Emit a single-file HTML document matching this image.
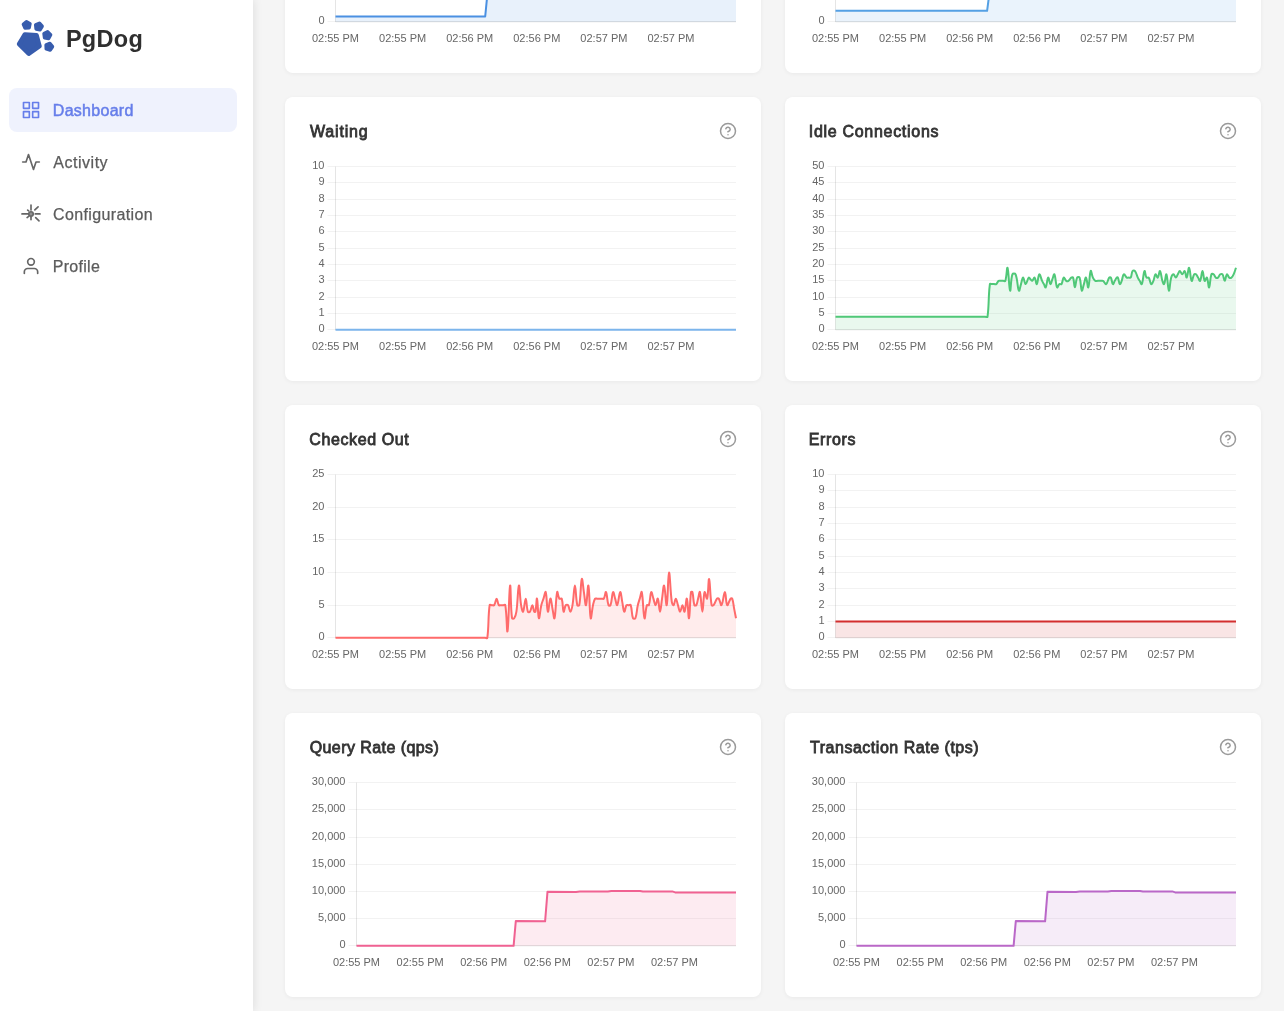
<!DOCTYPE html>
<html lang="en"><head><meta charset="utf-8"><title>PgDog</title>
<style>
*{box-sizing:border-box;margin:0;padding:0}
html,body{width:1284px;height:1011px;overflow:hidden;background:#f5f5f5;font-family:"Liberation Sans", sans-serif;}
.side{position:absolute;left:0;top:0;width:253px;height:1011px;background:#fff;box-shadow:2px 0 8px rgba(0,0,0,.08);z-index:3}
.logo{position:absolute;left:0;top:0}
.brand{position:absolute;left:66px;top:24px;font-size:23.5px;line-height:30px;font-weight:bold;color:#2f2f2f;white-space:nowrap;}
.nav{position:absolute;left:9px;width:228px;height:44px;border-radius:8px;display:flex;align-items:center;padding-left:12px;font-size:16px;color:#5c5c5c}
.nav svg{flex:none;margin-right:12px}
.nav span{display:inline-block;white-space:nowrap;position:relative;top:1px;-webkit-text-stroke:0.25px #5c5c5c}
.nav.on{background:rgba(102,126,234,0.1);color:#667eea}
.nav.on span{-webkit-text-stroke:0.5px #667eea}
.card{position:absolute;width:476px;height:284px;background:#fff;border-radius:8px;box-shadow:0 1px 4px rgba(0,0,0,.05)}
.ct{position:absolute;left:24px;top:25.3px;font-size:16px;line-height:20px;font-weight:normal;color:#333;-webkit-text-stroke:0.8px #333;white-space:nowrap}
.help{position:absolute;left:434px;top:25px}
svg.charts{position:absolute;left:0;top:0;z-index:2}
.tk{font-family:"Liberation Sans", sans-serif;font-size:11px;fill:#666}
#app{position:absolute;left:0;top:0;width:1284px;height:1011px;will-change:transform}
</style></head><body>
<div id="app">
<div class="card" style="left:285px;top:-211px"></div>
<div class="card" style="left:785px;top:-211px"></div>
<div class="card" style="left:285px;top:97px"><div class="ct" style="margin-left:1.01px;letter-spacing:0.809px">Waiting</div><svg class="help" viewBox="0 0 24 24" width="18" height="18" fill="none" stroke="#9a9a9a" stroke-width="2" stroke-linecap="round" stroke-linejoin="round"><circle cx="12" cy="12" r="10"/><path d="M9.09 9a3 3 0 0 1 5.83 1c0 2-3 3-3 3"/><line x1="12" y1="17" x2="12.01" y2="17"/></svg></div>
<div class="card" style="left:785px;top:97px"><div class="ct" style="margin-left:-0.28px;letter-spacing:0.704px">Idle Connections</div><svg class="help" viewBox="0 0 24 24" width="18" height="18" fill="none" stroke="#9a9a9a" stroke-width="2" stroke-linecap="round" stroke-linejoin="round"><circle cx="12" cy="12" r="10"/><path d="M9.09 9a3 3 0 0 1 5.83 1c0 2-3 3-3 3"/><line x1="12" y1="17" x2="12.01" y2="17"/></svg></div>
<div class="card" style="left:285px;top:405px"><div class="ct" style="margin-left:0.29px;letter-spacing:0.604px">Checked Out</div><svg class="help" viewBox="0 0 24 24" width="18" height="18" fill="none" stroke="#9a9a9a" stroke-width="2" stroke-linecap="round" stroke-linejoin="round"><circle cx="12" cy="12" r="10"/><path d="M9.09 9a3 3 0 0 1 5.83 1c0 2-3 3-3 3"/><line x1="12" y1="17" x2="12.01" y2="17"/></svg></div>
<div class="card" style="left:785px;top:405px"><div class="ct" style="margin-left:-0.26px;letter-spacing:0.621px">Errors</div><svg class="help" viewBox="0 0 24 24" width="18" height="18" fill="none" stroke="#9a9a9a" stroke-width="2" stroke-linecap="round" stroke-linejoin="round"><circle cx="12" cy="12" r="10"/><path d="M9.09 9a3 3 0 0 1 5.83 1c0 2-3 3-3 3"/><line x1="12" y1="17" x2="12.01" y2="17"/></svg></div>
<div class="card" style="left:285px;top:713px"><div class="ct" style="margin-left:0.66px;letter-spacing:0.433px">Query Rate (qps)</div><svg class="help" viewBox="0 0 24 24" width="18" height="18" fill="none" stroke="#9a9a9a" stroke-width="2" stroke-linecap="round" stroke-linejoin="round"><circle cx="12" cy="12" r="10"/><path d="M9.09 9a3 3 0 0 1 5.83 1c0 2-3 3-3 3"/><line x1="12" y1="17" x2="12.01" y2="17"/></svg></div>
<div class="card" style="left:785px;top:713px"><div class="ct" style="margin-left:1.04px;letter-spacing:0.520px">Transaction Rate (tps)</div><svg class="help" viewBox="0 0 24 24" width="18" height="18" fill="none" stroke="#9a9a9a" stroke-width="2" stroke-linecap="round" stroke-linejoin="round"><circle cx="12" cy="12" r="10"/><path d="M9.09 9a3 3 0 0 1 5.83 1c0 2-3 3-3 3"/><line x1="12" y1="17" x2="12.01" y2="17"/></svg></div>
<svg class="charts" width="1284" height="1011" viewBox="0 0 1284 1011">
<g><line x1="327.50" y1="21.50" x2="736.00" y2="21.50" stroke="rgba(0,0,0,0.05)" stroke-width="1"/>
<text x="324.50" y="24.00" text-anchor="end" class="tk">0</text>
<line x1="327.50" y1="-10.50" x2="736.00" y2="-10.50" stroke="rgba(0,0,0,0.05)" stroke-width="1"/>
<text x="324.50" y="-8.00" text-anchor="end" class="tk"></text>
<line x1="327.50" y1="-43.50" x2="736.00" y2="-43.50" stroke="rgba(0,0,0,0.05)" stroke-width="1"/>
<text x="324.50" y="-41.00" text-anchor="end" class="tk"></text>
<line x1="327.50" y1="-76.50" x2="736.00" y2="-76.50" stroke="rgba(0,0,0,0.05)" stroke-width="1"/>
<text x="324.50" y="-74.00" text-anchor="end" class="tk"></text>
<line x1="327.50" y1="-108.50" x2="736.00" y2="-108.50" stroke="rgba(0,0,0,0.05)" stroke-width="1"/>
<text x="324.50" y="-106.00" text-anchor="end" class="tk"></text>
<line x1="327.50" y1="-141.50" x2="736.00" y2="-141.50" stroke="rgba(0,0,0,0.05)" stroke-width="1"/>
<text x="324.50" y="-139.00" text-anchor="end" class="tk"></text>
<line x1="335.50" y1="-141.40" x2="335.50" y2="21.80" stroke="rgba(0,0,0,0.1)" stroke-width="1"/>
<line x1="335.50" y1="21.80" x2="736.00" y2="21.80" stroke="rgba(0,0,0,0.1)" stroke-width="1"/>
<text x="335.50" y="42.00" text-anchor="middle" class="tk">02:55 PM</text>
<text x="402.60" y="42.00" text-anchor="middle" class="tk">02:55 PM</text>
<text x="469.70" y="42.00" text-anchor="middle" class="tk">02:56 PM</text>
<text x="536.80" y="42.00" text-anchor="middle" class="tk">02:56 PM</text>
<text x="603.90" y="42.00" text-anchor="middle" class="tk">02:57 PM</text>
<text x="671.00" y="42.00" text-anchor="middle" class="tk">02:57 PM</text>
<path d="M335.50 16.50L485.20 16.50L487.40 -6.00L736.00 -6.00L736.00 21.80 L335.50 21.80 Z" fill="rgba(74,144,226,0.125)" stroke="none"/>
<path d="M335.50 16.50L485.20 16.50L487.40 -6.00L736.00 -6.00" fill="none" stroke="#4a90e2" stroke-width="2" stroke-linejoin="round" stroke-linecap="butt"/></g>
<g><line x1="827.50" y1="21.50" x2="1236.00" y2="21.50" stroke="rgba(0,0,0,0.05)" stroke-width="1"/>
<text x="824.50" y="24.00" text-anchor="end" class="tk">0</text>
<line x1="827.50" y1="-10.50" x2="1236.00" y2="-10.50" stroke="rgba(0,0,0,0.05)" stroke-width="1"/>
<text x="824.50" y="-8.00" text-anchor="end" class="tk"></text>
<line x1="827.50" y1="-43.50" x2="1236.00" y2="-43.50" stroke="rgba(0,0,0,0.05)" stroke-width="1"/>
<text x="824.50" y="-41.00" text-anchor="end" class="tk"></text>
<line x1="827.50" y1="-76.50" x2="1236.00" y2="-76.50" stroke="rgba(0,0,0,0.05)" stroke-width="1"/>
<text x="824.50" y="-74.00" text-anchor="end" class="tk"></text>
<line x1="827.50" y1="-108.50" x2="1236.00" y2="-108.50" stroke="rgba(0,0,0,0.05)" stroke-width="1"/>
<text x="824.50" y="-106.00" text-anchor="end" class="tk"></text>
<line x1="827.50" y1="-141.50" x2="1236.00" y2="-141.50" stroke="rgba(0,0,0,0.05)" stroke-width="1"/>
<text x="824.50" y="-139.00" text-anchor="end" class="tk"></text>
<line x1="835.50" y1="-141.40" x2="835.50" y2="21.80" stroke="rgba(0,0,0,0.1)" stroke-width="1"/>
<line x1="835.50" y1="21.80" x2="1236.00" y2="21.80" stroke="rgba(0,0,0,0.1)" stroke-width="1"/>
<text x="835.50" y="42.00" text-anchor="middle" class="tk">02:55 PM</text>
<text x="902.60" y="42.00" text-anchor="middle" class="tk">02:55 PM</text>
<text x="969.70" y="42.00" text-anchor="middle" class="tk">02:56 PM</text>
<text x="1036.80" y="42.00" text-anchor="middle" class="tk">02:56 PM</text>
<text x="1103.90" y="42.00" text-anchor="middle" class="tk">02:57 PM</text>
<text x="1171.00" y="42.00" text-anchor="middle" class="tk">02:57 PM</text>
<path d="M835.50 10.85L987.10 10.85L989.30 -6.00L1236.00 -6.00L1236.00 21.80 L835.50 21.80 Z" fill="rgba(84,160,228,0.125)" stroke="none"/>
<path d="M835.50 10.85L987.10 10.85L989.30 -6.00L1236.00 -6.00" fill="none" stroke="#54a0e4" stroke-width="2" stroke-linejoin="round" stroke-linecap="butt"/></g>
<g><line x1="327.50" y1="329.50" x2="736.00" y2="329.50" stroke="rgba(0,0,0,0.05)" stroke-width="1"/>
<text x="324.50" y="332.00" text-anchor="end" class="tk">0</text>
<line x1="327.50" y1="313.50" x2="736.00" y2="313.50" stroke="rgba(0,0,0,0.05)" stroke-width="1"/>
<text x="324.50" y="316.00" text-anchor="end" class="tk">1</text>
<line x1="327.50" y1="297.50" x2="736.00" y2="297.50" stroke="rgba(0,0,0,0.05)" stroke-width="1"/>
<text x="324.50" y="300.00" text-anchor="end" class="tk">2</text>
<line x1="327.50" y1="280.50" x2="736.00" y2="280.50" stroke="rgba(0,0,0,0.05)" stroke-width="1"/>
<text x="324.50" y="283.00" text-anchor="end" class="tk">3</text>
<line x1="327.50" y1="264.50" x2="736.00" y2="264.50" stroke="rgba(0,0,0,0.05)" stroke-width="1"/>
<text x="324.50" y="267.00" text-anchor="end" class="tk">4</text>
<line x1="327.50" y1="248.50" x2="736.00" y2="248.50" stroke="rgba(0,0,0,0.05)" stroke-width="1"/>
<text x="324.50" y="251.00" text-anchor="end" class="tk">5</text>
<line x1="327.50" y1="231.50" x2="736.00" y2="231.50" stroke="rgba(0,0,0,0.05)" stroke-width="1"/>
<text x="324.50" y="234.00" text-anchor="end" class="tk">6</text>
<line x1="327.50" y1="215.50" x2="736.00" y2="215.50" stroke="rgba(0,0,0,0.05)" stroke-width="1"/>
<text x="324.50" y="218.00" text-anchor="end" class="tk">7</text>
<line x1="327.50" y1="199.50" x2="736.00" y2="199.50" stroke="rgba(0,0,0,0.05)" stroke-width="1"/>
<text x="324.50" y="202.00" text-anchor="end" class="tk">8</text>
<line x1="327.50" y1="182.50" x2="736.00" y2="182.50" stroke="rgba(0,0,0,0.05)" stroke-width="1"/>
<text x="324.50" y="185.00" text-anchor="end" class="tk">9</text>
<line x1="327.50" y1="166.50" x2="736.00" y2="166.50" stroke="rgba(0,0,0,0.05)" stroke-width="1"/>
<text x="324.50" y="169.00" text-anchor="end" class="tk">10</text>
<line x1="335.50" y1="166.60" x2="335.50" y2="329.80" stroke="rgba(0,0,0,0.1)" stroke-width="1"/>
<line x1="335.50" y1="329.80" x2="736.00" y2="329.80" stroke="rgba(0,0,0,0.1)" stroke-width="1"/>
<text x="335.50" y="350.00" text-anchor="middle" class="tk">02:55 PM</text>
<text x="402.60" y="350.00" text-anchor="middle" class="tk">02:55 PM</text>
<text x="469.70" y="350.00" text-anchor="middle" class="tk">02:56 PM</text>
<text x="536.80" y="350.00" text-anchor="middle" class="tk">02:56 PM</text>
<text x="603.90" y="350.00" text-anchor="middle" class="tk">02:57 PM</text>
<text x="671.00" y="350.00" text-anchor="middle" class="tk">02:57 PM</text>
<path d="M335.50 329.80L736.00 329.80L736.00 329.80 L335.50 329.80 Z" fill="rgba(124,181,236,0.125)" stroke="none"/>
<path d="M335.50 329.80L736.00 329.80" fill="none" stroke="#7cb5ec" stroke-width="2" stroke-linejoin="round" stroke-linecap="butt"/></g>
<g><line x1="827.50" y1="329.50" x2="1236.00" y2="329.50" stroke="rgba(0,0,0,0.05)" stroke-width="1"/>
<text x="824.50" y="332.00" text-anchor="end" class="tk">0</text>
<line x1="827.50" y1="313.50" x2="1236.00" y2="313.50" stroke="rgba(0,0,0,0.05)" stroke-width="1"/>
<text x="824.50" y="316.00" text-anchor="end" class="tk">5</text>
<line x1="827.50" y1="297.50" x2="1236.00" y2="297.50" stroke="rgba(0,0,0,0.05)" stroke-width="1"/>
<text x="824.50" y="300.00" text-anchor="end" class="tk">10</text>
<line x1="827.50" y1="280.50" x2="1236.00" y2="280.50" stroke="rgba(0,0,0,0.05)" stroke-width="1"/>
<text x="824.50" y="283.00" text-anchor="end" class="tk">15</text>
<line x1="827.50" y1="264.50" x2="1236.00" y2="264.50" stroke="rgba(0,0,0,0.05)" stroke-width="1"/>
<text x="824.50" y="267.00" text-anchor="end" class="tk">20</text>
<line x1="827.50" y1="248.50" x2="1236.00" y2="248.50" stroke="rgba(0,0,0,0.05)" stroke-width="1"/>
<text x="824.50" y="251.00" text-anchor="end" class="tk">25</text>
<line x1="827.50" y1="231.50" x2="1236.00" y2="231.50" stroke="rgba(0,0,0,0.05)" stroke-width="1"/>
<text x="824.50" y="234.00" text-anchor="end" class="tk">30</text>
<line x1="827.50" y1="215.50" x2="1236.00" y2="215.50" stroke="rgba(0,0,0,0.05)" stroke-width="1"/>
<text x="824.50" y="218.00" text-anchor="end" class="tk">35</text>
<line x1="827.50" y1="199.50" x2="1236.00" y2="199.50" stroke="rgba(0,0,0,0.05)" stroke-width="1"/>
<text x="824.50" y="202.00" text-anchor="end" class="tk">40</text>
<line x1="827.50" y1="182.50" x2="1236.00" y2="182.50" stroke="rgba(0,0,0,0.05)" stroke-width="1"/>
<text x="824.50" y="185.00" text-anchor="end" class="tk">45</text>
<line x1="827.50" y1="166.50" x2="1236.00" y2="166.50" stroke="rgba(0,0,0,0.05)" stroke-width="1"/>
<text x="824.50" y="169.00" text-anchor="end" class="tk">50</text>
<line x1="835.50" y1="166.60" x2="835.50" y2="329.80" stroke="rgba(0,0,0,0.1)" stroke-width="1"/>
<line x1="835.50" y1="329.80" x2="1236.00" y2="329.80" stroke="rgba(0,0,0,0.1)" stroke-width="1"/>
<text x="835.50" y="350.00" text-anchor="middle" class="tk">02:55 PM</text>
<text x="902.60" y="350.00" text-anchor="middle" class="tk">02:55 PM</text>
<text x="969.70" y="350.00" text-anchor="middle" class="tk">02:56 PM</text>
<text x="1036.80" y="350.00" text-anchor="middle" class="tk">02:56 PM</text>
<text x="1103.90" y="350.00" text-anchor="middle" class="tk">02:57 PM</text>
<text x="1171.00" y="350.00" text-anchor="middle" class="tk">02:57 PM</text>
<path d="M835.50 316.74C836.39 316.74 836.84 316.74 837.74 316.74C838.63 316.74 839.08 316.74 839.97 316.74C840.86 316.74 841.31 316.74 842.21 316.74C843.10 316.74 843.55 316.74 844.44 316.74C845.34 316.74 845.78 316.74 846.68 316.74C847.57 316.74 848.02 316.74 848.91 316.74C849.81 316.74 850.25 316.74 851.15 316.74C852.04 316.74 852.49 316.74 853.38 316.74C854.28 316.74 854.72 316.74 855.62 316.74C856.51 316.74 856.96 316.74 857.85 316.74C858.75 316.74 859.19 316.74 860.09 316.74C860.98 316.74 861.43 316.74 862.32 316.74C863.22 316.74 863.66 316.74 864.56 316.74C865.45 316.74 865.90 316.74 866.79 316.74C867.69 316.74 868.14 316.74 869.03 316.74C869.92 316.74 870.37 316.74 871.26 316.74C872.16 316.74 872.61 316.74 873.50 316.74C874.39 316.74 874.84 316.74 875.74 316.74C876.63 316.74 877.08 316.74 877.97 316.74C878.86 316.74 879.31 316.74 880.21 316.74C881.10 316.74 881.55 316.74 882.44 316.74C883.34 316.74 883.78 316.74 884.68 316.74C885.57 316.74 886.02 316.74 886.91 316.74C887.81 316.74 888.25 316.74 889.15 316.74C890.04 316.74 890.49 316.74 891.38 316.74C892.28 316.74 892.72 316.74 893.62 316.74C894.51 316.74 894.96 316.74 895.85 316.74C896.75 316.74 897.19 316.74 898.09 316.74C898.98 316.74 899.43 316.74 900.32 316.74C901.22 316.74 901.66 316.74 902.56 316.74C903.45 316.74 903.90 316.74 904.79 316.74C905.69 316.74 906.14 316.74 907.03 316.74C907.92 316.74 908.37 316.74 909.26 316.74C910.16 316.74 910.61 316.74 911.50 316.74C912.39 316.74 912.84 316.74 913.74 316.74C914.63 316.74 915.08 316.74 915.97 316.74C916.86 316.74 917.31 316.74 918.21 316.74C919.10 316.74 919.55 316.74 920.44 316.74C921.34 316.74 921.78 316.74 922.68 316.74C923.57 316.74 924.02 316.74 924.91 316.74C925.81 316.74 926.25 316.74 927.15 316.74C928.04 316.74 928.49 316.74 929.38 316.74C930.28 316.74 930.72 316.74 931.62 316.74C932.51 316.74 932.96 316.74 933.85 316.74C934.75 316.74 935.19 316.74 936.09 316.74C936.98 316.74 937.43 316.74 938.32 316.74C939.22 316.74 939.66 316.74 940.56 316.74C941.45 316.74 941.90 316.74 942.79 316.74C943.69 316.74 944.14 316.74 945.03 316.74C945.92 316.74 946.37 316.74 947.26 316.74C948.16 316.74 948.61 316.74 949.50 316.74C950.39 316.74 950.84 316.74 951.74 316.74C952.63 316.74 953.08 316.74 953.97 316.74C954.86 316.74 955.31 316.74 956.21 316.74C957.10 316.74 957.55 316.74 958.44 316.74C959.34 316.74 959.78 316.74 960.68 316.74C961.57 316.74 962.02 316.74 962.91 316.74C963.81 316.74 964.25 316.74 965.15 316.74C966.04 316.74 966.49 316.74 967.38 316.74C968.28 316.74 968.72 316.74 969.62 316.74C970.51 316.74 970.96 316.74 971.85 316.74C972.75 316.74 973.19 316.74 974.09 316.74C974.98 316.74 975.43 316.74 976.32 316.74C977.22 316.74 977.66 316.74 978.56 316.74C979.45 316.74 979.90 316.74 980.79 316.74C981.69 316.74 982.14 316.74 983.03 316.74C983.92 316.74 984.37 316.74 985.26 316.74C986.16 316.74 987.38 317.58 987.50 316.74C989.24 304.52 988.21 296.37 989.90 284.10C990.01 283.32 991.16 284.10 992.00 284.10C992.84 284.10 993.26 284.10 994.10 284.10C994.94 284.10 995.59 284.55 996.20 284.10C997.39 283.24 997.41 281.68 998.60 280.84C999.26 280.38 999.94 280.84 1000.83 280.84C1001.73 280.84 1002.17 280.84 1003.07 280.84C1003.96 280.84 1005.04 281.59 1005.30 280.84C1006.82 276.37 1006.80 266.35 1007.50 267.78C1008.72 270.27 1008.96 289.11 1010.10 290.63C1010.92 291.72 1010.56 279.78 1012.40 274.31C1012.76 273.25 1015.18 273.26 1015.60 274.31C1017.78 279.79 1017.37 287.86 1018.90 290.63C1019.53 291.77 1020.16 286.72 1021.00 284.10C1021.84 281.49 1022.17 277.58 1023.10 277.58C1024.05 277.58 1024.59 284.10 1025.70 284.10C1026.83 284.10 1027.27 279.05 1028.70 277.58C1029.17 277.09 1029.75 278.56 1030.45 279.21C1031.15 279.86 1031.58 281.08 1032.20 280.84C1033.24 280.43 1033.92 277.09 1034.60 277.58C1035.76 278.40 1036.04 284.63 1036.80 284.10C1037.92 283.33 1038.06 275.08 1039.30 274.31C1040.18 273.77 1040.89 278.27 1042.10 280.84C1042.73 282.19 1043.18 282.80 1043.90 284.10C1044.62 285.41 1045.24 288.07 1045.70 287.37C1046.96 285.46 1047.08 278.35 1048.20 277.58C1048.96 277.05 1049.45 283.73 1050.40 284.10C1051.13 284.39 1051.60 281.17 1052.40 279.21C1053.20 277.25 1053.87 273.38 1054.40 274.31C1055.75 276.65 1055.56 284.35 1057.10 287.37C1057.56 288.27 1058.25 284.96 1059.40 284.10C1060.01 283.65 1061.10 284.71 1061.50 284.10C1062.82 282.10 1062.52 278.39 1063.70 277.58C1064.40 277.09 1064.98 279.99 1066.20 280.84C1066.86 281.30 1067.72 281.28 1068.40 280.84C1069.76 279.97 1069.97 278.50 1071.30 277.58C1071.85 277.19 1072.88 276.98 1073.10 277.58C1074.32 280.89 1074.10 287.37 1074.90 287.37C1075.70 287.37 1075.59 280.71 1077.10 277.58C1077.47 276.79 1079.30 276.75 1079.60 277.58C1081.18 281.97 1080.67 288.91 1081.80 290.63C1082.39 291.52 1083.06 286.72 1083.90 284.10C1084.74 281.49 1085.29 277.05 1086.00 277.58C1087.05 278.35 1087.59 288.36 1088.30 287.37C1089.47 285.75 1089.40 273.81 1090.70 271.05C1091.24 269.89 1091.74 275.11 1092.90 277.58C1093.58 279.03 1094.08 280.04 1095.30 280.84C1096.07 281.35 1096.84 280.84 1097.87 280.84C1098.89 280.84 1099.41 280.84 1100.43 280.84C1101.46 280.84 1102.18 280.37 1103.00 280.84C1104.44 281.67 1105.15 284.61 1106.10 284.10C1107.63 283.30 1107.66 279.71 1109.20 277.58C1109.54 277.10 1110.52 277.08 1110.80 277.58C1112.00 279.69 1111.87 283.26 1112.90 284.10C1113.47 284.57 1114.04 282.15 1114.80 280.84C1115.56 279.53 1115.76 278.57 1116.70 277.58C1117.00 277.26 1117.71 277.18 1117.90 277.58C1118.95 279.80 1118.82 283.26 1119.80 284.10C1120.34 284.57 1121.13 282.23 1121.70 280.84C1122.73 278.31 1122.58 275.11 1123.80 274.31C1124.58 273.80 1125.36 276.68 1126.70 277.58C1127.32 277.99 1127.90 277.58 1128.70 277.58C1129.50 277.58 1130.35 278.17 1130.70 277.58C1131.91 275.56 1131.33 272.98 1132.60 271.05C1133.05 270.37 1134.47 270.39 1135.00 271.05C1136.55 273.00 1136.57 275.02 1137.80 277.58C1138.45 278.94 1138.91 279.55 1139.70 280.84C1140.51 282.16 1141.37 284.99 1141.80 284.10C1143.29 281.07 1143.26 272.77 1144.50 271.05C1145.14 270.16 1145.23 275.60 1146.50 277.58C1146.91 278.21 1148.25 276.95 1148.70 277.58C1150.13 279.56 1150.00 283.27 1151.20 284.10C1151.88 284.57 1152.77 282.27 1153.40 280.84C1154.49 278.35 1154.41 275.14 1155.50 274.31C1156.13 273.84 1157.05 278.05 1157.70 277.58C1158.85 276.74 1159.23 270.52 1160.00 271.05C1161.11 271.82 1161.20 277.01 1162.40 280.84C1162.84 282.24 1163.67 284.80 1164.10 284.10C1165.27 282.19 1165.67 273.32 1166.40 274.31C1167.59 275.93 1167.84 289.91 1168.90 290.63C1169.76 291.21 1169.79 282.59 1171.20 277.58C1171.63 276.06 1172.58 274.31 1173.50 274.31C1174.42 274.31 1174.92 277.58 1175.80 277.58C1176.64 277.58 1177.00 275.62 1177.80 274.31C1178.60 273.01 1178.93 271.05 1179.80 271.05C1180.73 271.05 1181.31 274.31 1182.30 274.31C1183.27 274.31 1184.04 270.56 1184.70 271.05C1185.80 271.87 1185.99 278.10 1186.70 277.58C1187.75 276.80 1188.24 267.22 1189.10 267.78C1190.24 268.53 1190.36 279.13 1191.70 280.84C1192.40 281.74 1192.83 276.39 1194.20 274.31C1194.55 273.78 1195.51 273.90 1196.00 274.31C1197.05 275.20 1197.23 276.27 1198.05 277.58C1198.87 278.88 1199.61 281.56 1200.10 280.84C1201.39 278.95 1201.58 271.05 1202.50 271.05C1203.42 271.05 1203.44 278.96 1204.70 280.84C1205.20 281.58 1206.40 276.84 1206.90 277.58C1208.16 279.45 1208.32 287.93 1209.10 287.37C1210.12 286.62 1209.86 278.79 1211.40 274.31C1211.66 273.57 1212.97 273.84 1213.60 274.31C1214.73 275.15 1214.67 276.74 1215.80 277.58C1216.43 278.04 1217.36 278.04 1218.00 277.58C1219.16 276.73 1219.14 275.15 1220.30 274.31C1220.94 273.85 1222.07 273.68 1222.50 274.31C1223.83 276.29 1223.82 280.84 1224.70 280.84C1225.58 280.84 1225.76 275.14 1226.90 274.31C1227.56 273.83 1228.04 276.73 1229.20 277.58C1229.84 278.04 1230.77 278.04 1231.40 277.58C1232.53 276.74 1232.94 275.73 1233.60 274.31C1234.78 271.81 1235.04 270.40 1236.00 267.78L1236.00 329.80 L835.50 329.80 Z" fill="rgba(80,200,120,0.125)" stroke="none"/>
<path d="M835.50 316.74C836.39 316.74 836.84 316.74 837.74 316.74C838.63 316.74 839.08 316.74 839.97 316.74C840.86 316.74 841.31 316.74 842.21 316.74C843.10 316.74 843.55 316.74 844.44 316.74C845.34 316.74 845.78 316.74 846.68 316.74C847.57 316.74 848.02 316.74 848.91 316.74C849.81 316.74 850.25 316.74 851.15 316.74C852.04 316.74 852.49 316.74 853.38 316.74C854.28 316.74 854.72 316.74 855.62 316.74C856.51 316.74 856.96 316.74 857.85 316.74C858.75 316.74 859.19 316.74 860.09 316.74C860.98 316.74 861.43 316.74 862.32 316.74C863.22 316.74 863.66 316.74 864.56 316.74C865.45 316.74 865.90 316.74 866.79 316.74C867.69 316.74 868.14 316.74 869.03 316.74C869.92 316.74 870.37 316.74 871.26 316.74C872.16 316.74 872.61 316.74 873.50 316.74C874.39 316.74 874.84 316.74 875.74 316.74C876.63 316.74 877.08 316.74 877.97 316.74C878.86 316.74 879.31 316.74 880.21 316.74C881.10 316.74 881.55 316.74 882.44 316.74C883.34 316.74 883.78 316.74 884.68 316.74C885.57 316.74 886.02 316.74 886.91 316.74C887.81 316.74 888.25 316.74 889.15 316.74C890.04 316.74 890.49 316.74 891.38 316.74C892.28 316.74 892.72 316.74 893.62 316.74C894.51 316.74 894.96 316.74 895.85 316.74C896.75 316.74 897.19 316.74 898.09 316.74C898.98 316.74 899.43 316.74 900.32 316.74C901.22 316.74 901.66 316.74 902.56 316.74C903.45 316.74 903.90 316.74 904.79 316.74C905.69 316.74 906.14 316.74 907.03 316.74C907.92 316.74 908.37 316.74 909.26 316.74C910.16 316.74 910.61 316.74 911.50 316.74C912.39 316.74 912.84 316.74 913.74 316.74C914.63 316.74 915.08 316.74 915.97 316.74C916.86 316.74 917.31 316.74 918.21 316.74C919.10 316.74 919.55 316.74 920.44 316.74C921.34 316.74 921.78 316.74 922.68 316.74C923.57 316.74 924.02 316.74 924.91 316.74C925.81 316.74 926.25 316.74 927.15 316.74C928.04 316.74 928.49 316.74 929.38 316.74C930.28 316.74 930.72 316.74 931.62 316.74C932.51 316.74 932.96 316.74 933.85 316.74C934.75 316.74 935.19 316.74 936.09 316.74C936.98 316.74 937.43 316.74 938.32 316.74C939.22 316.74 939.66 316.74 940.56 316.74C941.45 316.74 941.90 316.74 942.79 316.74C943.69 316.74 944.14 316.74 945.03 316.74C945.92 316.74 946.37 316.74 947.26 316.74C948.16 316.74 948.61 316.74 949.50 316.74C950.39 316.74 950.84 316.74 951.74 316.74C952.63 316.74 953.08 316.74 953.97 316.74C954.86 316.74 955.31 316.74 956.21 316.74C957.10 316.74 957.55 316.74 958.44 316.74C959.34 316.74 959.78 316.74 960.68 316.74C961.57 316.74 962.02 316.74 962.91 316.74C963.81 316.74 964.25 316.74 965.15 316.74C966.04 316.74 966.49 316.74 967.38 316.74C968.28 316.74 968.72 316.74 969.62 316.74C970.51 316.74 970.96 316.74 971.85 316.74C972.75 316.74 973.19 316.74 974.09 316.74C974.98 316.74 975.43 316.74 976.32 316.74C977.22 316.74 977.66 316.74 978.56 316.74C979.45 316.74 979.90 316.74 980.79 316.74C981.69 316.74 982.14 316.74 983.03 316.74C983.92 316.74 984.37 316.74 985.26 316.74C986.16 316.74 987.38 317.58 987.50 316.74C989.24 304.52 988.21 296.37 989.90 284.10C990.01 283.32 991.16 284.10 992.00 284.10C992.84 284.10 993.26 284.10 994.10 284.10C994.94 284.10 995.59 284.55 996.20 284.10C997.39 283.24 997.41 281.68 998.60 280.84C999.26 280.38 999.94 280.84 1000.83 280.84C1001.73 280.84 1002.17 280.84 1003.07 280.84C1003.96 280.84 1005.04 281.59 1005.30 280.84C1006.82 276.37 1006.80 266.35 1007.50 267.78C1008.72 270.27 1008.96 289.11 1010.10 290.63C1010.92 291.72 1010.56 279.78 1012.40 274.31C1012.76 273.25 1015.18 273.26 1015.60 274.31C1017.78 279.79 1017.37 287.86 1018.90 290.63C1019.53 291.77 1020.16 286.72 1021.00 284.10C1021.84 281.49 1022.17 277.58 1023.10 277.58C1024.05 277.58 1024.59 284.10 1025.70 284.10C1026.83 284.10 1027.27 279.05 1028.70 277.58C1029.17 277.09 1029.75 278.56 1030.45 279.21C1031.15 279.86 1031.58 281.08 1032.20 280.84C1033.24 280.43 1033.92 277.09 1034.60 277.58C1035.76 278.40 1036.04 284.63 1036.80 284.10C1037.92 283.33 1038.06 275.08 1039.30 274.31C1040.18 273.77 1040.89 278.27 1042.10 280.84C1042.73 282.19 1043.18 282.80 1043.90 284.10C1044.62 285.41 1045.24 288.07 1045.70 287.37C1046.96 285.46 1047.08 278.35 1048.20 277.58C1048.96 277.05 1049.45 283.73 1050.40 284.10C1051.13 284.39 1051.60 281.17 1052.40 279.21C1053.20 277.25 1053.87 273.38 1054.40 274.31C1055.75 276.65 1055.56 284.35 1057.10 287.37C1057.56 288.27 1058.25 284.96 1059.40 284.10C1060.01 283.65 1061.10 284.71 1061.50 284.10C1062.82 282.10 1062.52 278.39 1063.70 277.58C1064.40 277.09 1064.98 279.99 1066.20 280.84C1066.86 281.30 1067.72 281.28 1068.40 280.84C1069.76 279.97 1069.97 278.50 1071.30 277.58C1071.85 277.19 1072.88 276.98 1073.10 277.58C1074.32 280.89 1074.10 287.37 1074.90 287.37C1075.70 287.37 1075.59 280.71 1077.10 277.58C1077.47 276.79 1079.30 276.75 1079.60 277.58C1081.18 281.97 1080.67 288.91 1081.80 290.63C1082.39 291.52 1083.06 286.72 1083.90 284.10C1084.74 281.49 1085.29 277.05 1086.00 277.58C1087.05 278.35 1087.59 288.36 1088.30 287.37C1089.47 285.75 1089.40 273.81 1090.70 271.05C1091.24 269.89 1091.74 275.11 1092.90 277.58C1093.58 279.03 1094.08 280.04 1095.30 280.84C1096.07 281.35 1096.84 280.84 1097.87 280.84C1098.89 280.84 1099.41 280.84 1100.43 280.84C1101.46 280.84 1102.18 280.37 1103.00 280.84C1104.44 281.67 1105.15 284.61 1106.10 284.10C1107.63 283.30 1107.66 279.71 1109.20 277.58C1109.54 277.10 1110.52 277.08 1110.80 277.58C1112.00 279.69 1111.87 283.26 1112.90 284.10C1113.47 284.57 1114.04 282.15 1114.80 280.84C1115.56 279.53 1115.76 278.57 1116.70 277.58C1117.00 277.26 1117.71 277.18 1117.90 277.58C1118.95 279.80 1118.82 283.26 1119.80 284.10C1120.34 284.57 1121.13 282.23 1121.70 280.84C1122.73 278.31 1122.58 275.11 1123.80 274.31C1124.58 273.80 1125.36 276.68 1126.70 277.58C1127.32 277.99 1127.90 277.58 1128.70 277.58C1129.50 277.58 1130.35 278.17 1130.70 277.58C1131.91 275.56 1131.33 272.98 1132.60 271.05C1133.05 270.37 1134.47 270.39 1135.00 271.05C1136.55 273.00 1136.57 275.02 1137.80 277.58C1138.45 278.94 1138.91 279.55 1139.70 280.84C1140.51 282.16 1141.37 284.99 1141.80 284.10C1143.29 281.07 1143.26 272.77 1144.50 271.05C1145.14 270.16 1145.23 275.60 1146.50 277.58C1146.91 278.21 1148.25 276.95 1148.70 277.58C1150.13 279.56 1150.00 283.27 1151.20 284.10C1151.88 284.57 1152.77 282.27 1153.40 280.84C1154.49 278.35 1154.41 275.14 1155.50 274.31C1156.13 273.84 1157.05 278.05 1157.70 277.58C1158.85 276.74 1159.23 270.52 1160.00 271.05C1161.11 271.82 1161.20 277.01 1162.40 280.84C1162.84 282.24 1163.67 284.80 1164.10 284.10C1165.27 282.19 1165.67 273.32 1166.40 274.31C1167.59 275.93 1167.84 289.91 1168.90 290.63C1169.76 291.21 1169.79 282.59 1171.20 277.58C1171.63 276.06 1172.58 274.31 1173.50 274.31C1174.42 274.31 1174.92 277.58 1175.80 277.58C1176.64 277.58 1177.00 275.62 1177.80 274.31C1178.60 273.01 1178.93 271.05 1179.80 271.05C1180.73 271.05 1181.31 274.31 1182.30 274.31C1183.27 274.31 1184.04 270.56 1184.70 271.05C1185.80 271.87 1185.99 278.10 1186.70 277.58C1187.75 276.80 1188.24 267.22 1189.10 267.78C1190.24 268.53 1190.36 279.13 1191.70 280.84C1192.40 281.74 1192.83 276.39 1194.20 274.31C1194.55 273.78 1195.51 273.90 1196.00 274.31C1197.05 275.20 1197.23 276.27 1198.05 277.58C1198.87 278.88 1199.61 281.56 1200.10 280.84C1201.39 278.95 1201.58 271.05 1202.50 271.05C1203.42 271.05 1203.44 278.96 1204.70 280.84C1205.20 281.58 1206.40 276.84 1206.90 277.58C1208.16 279.45 1208.32 287.93 1209.10 287.37C1210.12 286.62 1209.86 278.79 1211.40 274.31C1211.66 273.57 1212.97 273.84 1213.60 274.31C1214.73 275.15 1214.67 276.74 1215.80 277.58C1216.43 278.04 1217.36 278.04 1218.00 277.58C1219.16 276.73 1219.14 275.15 1220.30 274.31C1220.94 273.85 1222.07 273.68 1222.50 274.31C1223.83 276.29 1223.82 280.84 1224.70 280.84C1225.58 280.84 1225.76 275.14 1226.90 274.31C1227.56 273.83 1228.04 276.73 1229.20 277.58C1229.84 278.04 1230.77 278.04 1231.40 277.58C1232.53 276.74 1232.94 275.73 1233.60 274.31C1234.78 271.81 1235.04 270.40 1236.00 267.78" fill="none" stroke="#50c878" stroke-width="2" stroke-linejoin="round" stroke-linecap="butt"/></g>
<g><line x1="327.50" y1="637.50" x2="736.00" y2="637.50" stroke="rgba(0,0,0,0.05)" stroke-width="1"/>
<text x="324.50" y="640.00" text-anchor="end" class="tk">0</text>
<line x1="327.50" y1="605.50" x2="736.00" y2="605.50" stroke="rgba(0,0,0,0.05)" stroke-width="1"/>
<text x="324.50" y="608.00" text-anchor="end" class="tk">5</text>
<line x1="327.50" y1="572.50" x2="736.00" y2="572.50" stroke="rgba(0,0,0,0.05)" stroke-width="1"/>
<text x="324.50" y="575.00" text-anchor="end" class="tk">10</text>
<line x1="327.50" y1="539.50" x2="736.00" y2="539.50" stroke="rgba(0,0,0,0.05)" stroke-width="1"/>
<text x="324.50" y="542.00" text-anchor="end" class="tk">15</text>
<line x1="327.50" y1="507.50" x2="736.00" y2="507.50" stroke="rgba(0,0,0,0.05)" stroke-width="1"/>
<text x="324.50" y="510.00" text-anchor="end" class="tk">20</text>
<line x1="327.50" y1="474.50" x2="736.00" y2="474.50" stroke="rgba(0,0,0,0.05)" stroke-width="1"/>
<text x="324.50" y="477.00" text-anchor="end" class="tk">25</text>
<line x1="335.50" y1="474.60" x2="335.50" y2="637.80" stroke="rgba(0,0,0,0.1)" stroke-width="1"/>
<line x1="335.50" y1="637.80" x2="736.00" y2="637.80" stroke="rgba(0,0,0,0.1)" stroke-width="1"/>
<text x="335.50" y="658.00" text-anchor="middle" class="tk">02:55 PM</text>
<text x="402.60" y="658.00" text-anchor="middle" class="tk">02:55 PM</text>
<text x="469.70" y="658.00" text-anchor="middle" class="tk">02:56 PM</text>
<text x="536.80" y="658.00" text-anchor="middle" class="tk">02:56 PM</text>
<text x="603.90" y="658.00" text-anchor="middle" class="tk">02:57 PM</text>
<text x="671.00" y="658.00" text-anchor="middle" class="tk">02:57 PM</text>
<path d="M335.50 637.80C336.39 637.80 336.84 637.80 337.73 637.80C338.63 637.80 339.07 637.80 339.96 637.80C340.86 637.80 341.30 637.80 342.20 637.80C343.09 637.80 343.54 637.80 344.43 637.80C345.32 637.80 345.77 637.80 346.66 637.80C347.55 637.80 348.00 637.80 348.89 637.80C349.79 637.80 350.23 637.80 351.13 637.80C352.02 637.80 352.47 637.80 353.36 637.80C354.25 637.80 354.70 637.80 355.59 637.80C356.48 637.80 356.93 637.80 357.82 637.80C358.72 637.80 359.16 637.80 360.06 637.80C360.95 637.80 361.40 637.80 362.29 637.80C363.18 637.80 363.63 637.80 364.52 637.80C365.41 637.80 365.86 637.80 366.75 637.80C367.65 637.80 368.09 637.80 368.99 637.80C369.88 637.80 370.32 637.80 371.22 637.80C372.11 637.80 372.56 637.80 373.45 637.80C374.34 637.80 374.79 637.80 375.68 637.80C376.58 637.80 377.02 637.80 377.91 637.80C378.81 637.80 379.25 637.80 380.15 637.80C381.04 637.80 381.49 637.80 382.38 637.80C383.27 637.80 383.72 637.80 384.61 637.80C385.50 637.80 385.95 637.80 386.84 637.80C387.74 637.80 388.18 637.80 389.08 637.80C389.97 637.80 390.42 637.80 391.31 637.80C392.20 637.80 392.65 637.80 393.54 637.80C394.43 637.80 394.88 637.80 395.77 637.80C396.67 637.80 397.11 637.80 398.01 637.80C398.90 637.80 399.35 637.80 400.24 637.80C401.13 637.80 401.58 637.80 402.47 637.80C403.36 637.80 403.81 637.80 404.70 637.80C405.60 637.80 406.04 637.80 406.94 637.80C407.83 637.80 408.27 637.80 409.17 637.80C410.06 637.80 410.51 637.80 411.40 637.80C412.29 637.80 412.74 637.80 413.63 637.80C414.53 637.80 414.97 637.80 415.86 637.80C416.76 637.80 417.20 637.80 418.10 637.80C418.99 637.80 419.44 637.80 420.33 637.80C421.22 637.80 421.67 637.80 422.56 637.80C423.45 637.80 423.90 637.80 424.79 637.80C425.69 637.80 426.13 637.80 427.03 637.80C427.92 637.80 428.37 637.80 429.26 637.80C430.15 637.80 430.60 637.80 431.49 637.80C432.38 637.80 432.83 637.80 433.72 637.80C434.62 637.80 435.06 637.80 435.96 637.80C436.85 637.80 437.30 637.80 438.19 637.80C439.08 637.80 439.53 637.80 440.42 637.80C441.31 637.80 441.76 637.80 442.65 637.80C443.55 637.80 443.99 637.80 444.89 637.80C445.78 637.80 446.22 637.80 447.12 637.80C448.01 637.80 448.46 637.80 449.35 637.80C450.24 637.80 450.69 637.80 451.58 637.80C452.48 637.80 452.92 637.80 453.81 637.80C454.71 637.80 455.15 637.80 456.05 637.80C456.94 637.80 457.39 637.80 458.28 637.80C459.17 637.80 459.62 637.80 460.51 637.80C461.40 637.80 461.85 637.80 462.74 637.80C463.64 637.80 464.08 637.80 464.98 637.80C465.87 637.80 466.32 637.80 467.21 637.80C468.10 637.80 468.55 637.80 469.44 637.80C470.33 637.80 470.78 637.80 471.67 637.80C472.57 637.80 473.01 637.80 473.91 637.80C474.80 637.80 475.25 637.80 476.14 637.80C477.03 637.80 477.48 637.80 478.37 637.80C479.26 637.80 479.71 637.80 480.60 637.80C481.50 637.80 481.94 637.80 482.84 637.80C483.73 637.80 484.17 637.80 485.07 637.80C485.96 637.80 487.18 638.63 487.30 637.80C489.02 625.58 487.92 617.37 489.65 605.16C489.77 604.31 491.01 605.16 491.92 605.16C492.83 605.16 493.74 605.80 494.20 605.16C495.61 603.19 495.68 598.63 496.60 598.63C497.52 598.63 497.47 603.17 498.80 605.16C499.22 605.78 500.10 605.16 500.97 605.16C501.83 605.16 502.27 605.16 503.13 605.16C504.00 605.16 505.17 604.36 505.30 605.16C506.91 614.81 506.80 634.12 507.50 631.27C508.72 626.29 509.05 588.62 510.10 585.58C510.85 583.40 510.46 605.98 512.00 618.22C512.10 619.04 513.77 618.85 514.20 618.22C515.53 616.24 516.01 614.40 516.40 611.69C517.89 601.35 517.83 587.07 518.90 585.58C519.71 584.46 519.85 597.40 521.10 605.16C521.53 607.85 522.48 612.57 523.10 611.69C524.32 609.96 524.74 598.63 525.70 598.63C526.66 598.63 526.42 607.18 527.90 611.69C528.14 612.40 529.58 612.29 530.00 611.69C531.38 609.68 531.55 605.16 532.40 605.16C533.23 605.16 533.18 609.47 534.20 611.69C534.38 612.08 535.31 612.12 535.40 611.69C536.43 606.90 536.44 597.59 537.00 598.63C537.84 600.20 537.87 616.66 538.90 618.22C539.59 619.27 540.09 610.32 541.30 605.16C541.93 602.48 542.62 601.24 543.50 598.63C544.38 596.02 545.24 590.75 545.70 592.10C547.00 595.97 546.78 610.13 547.90 611.69C548.66 612.74 549.36 599.38 550.40 598.63C551.18 598.07 551.63 604.51 552.45 608.42C553.27 612.34 553.98 620.02 554.50 618.22C555.88 613.49 555.68 598.32 557.20 592.10C557.60 590.48 557.97 596.70 559.30 598.63C559.77 599.31 561.44 597.83 561.70 598.63C563.16 603.05 562.52 609.97 563.60 611.69C564.16 612.58 564.47 607.14 565.80 605.16C566.23 604.53 567.56 604.53 568.00 605.16C569.40 607.14 569.49 611.69 570.40 611.69C571.29 611.69 572.04 607.85 572.50 605.16C573.84 597.41 573.94 585.58 574.90 585.58C575.86 585.58 575.70 598.05 577.30 605.16C577.46 605.88 579.17 605.90 579.30 605.16C580.97 595.46 580.58 582.52 581.80 579.05C582.42 577.30 583.06 586.88 583.90 592.10C584.74 597.33 585.28 606.21 586.00 605.16C587.08 603.60 587.69 583.61 588.40 585.58C589.57 588.83 589.39 612.64 590.70 618.22C591.23 620.47 591.84 610.32 593.00 605.16C593.60 602.49 593.80 600.61 595.10 598.63C595.51 598.00 596.40 598.63 597.27 598.63C598.14 598.63 598.58 598.63 599.45 598.63C600.32 598.63 600.75 598.63 601.62 598.63C602.50 598.63 603.38 599.26 603.80 598.63C605.13 596.65 605.36 591.21 606.00 592.10C607.24 593.82 606.94 600.62 608.50 605.16C608.74 605.84 610.26 605.84 610.50 605.16C612.10 600.62 611.87 593.83 613.10 592.10C613.73 591.22 614.33 596.02 615.15 598.63C615.97 601.24 616.52 606.04 617.20 605.16C618.54 603.43 619.04 592.85 620.20 592.10C621.06 591.55 621.43 597.98 622.25 601.90C623.07 605.81 623.29 610.91 624.30 611.69C624.99 612.22 625.18 607.16 626.50 605.16C626.90 604.55 627.76 605.16 628.60 605.16C629.44 605.16 630.46 604.45 630.70 605.16C632.22 609.67 631.41 613.79 633.00 618.22C633.29 619.02 635.11 619.02 635.40 618.22C637.03 613.79 636.64 610.33 637.80 605.16C638.39 602.50 638.99 601.24 639.77 598.63C640.56 596.02 641.36 590.49 641.75 592.10C643.25 598.32 643.13 614.75 644.50 618.22C645.19 619.97 645.37 609.70 646.90 605.16C647.13 604.48 648.67 605.84 648.90 605.16C650.41 600.62 650.06 593.82 651.25 592.10C651.87 591.21 652.55 596.02 653.42 598.63C654.29 601.24 654.73 605.16 655.60 605.16C656.48 605.16 657.20 597.74 657.80 598.63C658.96 600.35 659.15 611.69 660.00 611.69C660.85 611.69 661.23 603.85 662.05 598.63C662.87 593.41 663.35 584.53 664.10 585.58C665.21 587.14 665.96 607.13 666.70 605.16C667.92 601.90 667.93 573.21 669.00 572.52C669.97 571.90 670.17 590.30 671.80 601.90C672.01 603.36 673.04 605.62 673.60 605.16C674.64 604.31 674.93 598.63 675.80 598.63C676.67 598.63 677.09 602.55 677.95 605.16C678.81 607.77 679.20 611.69 680.10 611.69C681.02 611.69 681.61 605.16 682.50 605.16C683.37 605.16 683.91 612.58 684.50 611.69C685.65 609.96 686.13 597.58 686.85 598.63C687.93 600.19 688.29 619.34 689.00 618.22C689.95 616.73 689.71 602.02 691.00 592.10C691.07 591.57 692.27 591.60 692.40 592.10C693.63 596.83 693.04 600.59 694.40 605.16C694.60 605.82 695.98 605.73 696.30 605.16C697.46 603.12 697.38 601.24 698.10 598.63C698.82 596.02 699.46 590.77 699.90 592.10C701.18 595.99 701.46 611.69 702.40 611.69C703.34 611.69 703.21 595.96 704.60 592.10C705.09 590.74 706.63 600.00 707.10 598.63C708.43 594.78 708.33 577.93 709.10 579.05C710.13 580.54 709.93 595.46 711.60 605.16C711.73 605.90 713.14 605.72 713.60 605.16C715.30 603.11 715.33 600.73 717.00 598.63C717.41 598.12 718.43 598.10 718.80 598.63C720.23 600.71 720.66 606.06 721.50 605.16C723.10 603.45 723.75 592.10 724.90 592.10C726.03 592.10 725.73 603.48 727.20 605.16C728.01 606.09 728.96 600.78 730.60 598.63C730.96 598.17 732.01 598.09 732.20 598.63C733.41 602.01 733.34 604.51 734.10 608.42C734.86 612.34 735.24 614.30 736.00 618.22L736.00 637.80 L335.50 637.80 Z" fill="rgba(255,107,107,0.125)" stroke="none"/>
<path d="M335.50 637.80C336.39 637.80 336.84 637.80 337.73 637.80C338.63 637.80 339.07 637.80 339.96 637.80C340.86 637.80 341.30 637.80 342.20 637.80C343.09 637.80 343.54 637.80 344.43 637.80C345.32 637.80 345.77 637.80 346.66 637.80C347.55 637.80 348.00 637.80 348.89 637.80C349.79 637.80 350.23 637.80 351.13 637.80C352.02 637.80 352.47 637.80 353.36 637.80C354.25 637.80 354.70 637.80 355.59 637.80C356.48 637.80 356.93 637.80 357.82 637.80C358.72 637.80 359.16 637.80 360.06 637.80C360.95 637.80 361.40 637.80 362.29 637.80C363.18 637.80 363.63 637.80 364.52 637.80C365.41 637.80 365.86 637.80 366.75 637.80C367.65 637.80 368.09 637.80 368.99 637.80C369.88 637.80 370.32 637.80 371.22 637.80C372.11 637.80 372.56 637.80 373.45 637.80C374.34 637.80 374.79 637.80 375.68 637.80C376.58 637.80 377.02 637.80 377.91 637.80C378.81 637.80 379.25 637.80 380.15 637.80C381.04 637.80 381.49 637.80 382.38 637.80C383.27 637.80 383.72 637.80 384.61 637.80C385.50 637.80 385.95 637.80 386.84 637.80C387.74 637.80 388.18 637.80 389.08 637.80C389.97 637.80 390.42 637.80 391.31 637.80C392.20 637.80 392.65 637.80 393.54 637.80C394.43 637.80 394.88 637.80 395.77 637.80C396.67 637.80 397.11 637.80 398.01 637.80C398.90 637.80 399.35 637.80 400.24 637.80C401.13 637.80 401.58 637.80 402.47 637.80C403.36 637.80 403.81 637.80 404.70 637.80C405.60 637.80 406.04 637.80 406.94 637.80C407.83 637.80 408.27 637.80 409.17 637.80C410.06 637.80 410.51 637.80 411.40 637.80C412.29 637.80 412.74 637.80 413.63 637.80C414.53 637.80 414.97 637.80 415.86 637.80C416.76 637.80 417.20 637.80 418.10 637.80C418.99 637.80 419.44 637.80 420.33 637.80C421.22 637.80 421.67 637.80 422.56 637.80C423.45 637.80 423.90 637.80 424.79 637.80C425.69 637.80 426.13 637.80 427.03 637.80C427.92 637.80 428.37 637.80 429.26 637.80C430.15 637.80 430.60 637.80 431.49 637.80C432.38 637.80 432.83 637.80 433.72 637.80C434.62 637.80 435.06 637.80 435.96 637.80C436.85 637.80 437.30 637.80 438.19 637.80C439.08 637.80 439.53 637.80 440.42 637.80C441.31 637.80 441.76 637.80 442.65 637.80C443.55 637.80 443.99 637.80 444.89 637.80C445.78 637.80 446.22 637.80 447.12 637.80C448.01 637.80 448.46 637.80 449.35 637.80C450.24 637.80 450.69 637.80 451.58 637.80C452.48 637.80 452.92 637.80 453.81 637.80C454.71 637.80 455.15 637.80 456.05 637.80C456.94 637.80 457.39 637.80 458.28 637.80C459.17 637.80 459.62 637.80 460.51 637.80C461.40 637.80 461.85 637.80 462.74 637.80C463.64 637.80 464.08 637.80 464.98 637.80C465.87 637.80 466.32 637.80 467.21 637.80C468.10 637.80 468.55 637.80 469.44 637.80C470.33 637.80 470.78 637.80 471.67 637.80C472.57 637.80 473.01 637.80 473.91 637.80C474.80 637.80 475.25 637.80 476.14 637.80C477.03 637.80 477.48 637.80 478.37 637.80C479.26 637.80 479.71 637.80 480.60 637.80C481.50 637.80 481.94 637.80 482.84 637.80C483.73 637.80 484.17 637.80 485.07 637.80C485.96 637.80 487.18 638.63 487.30 637.80C489.02 625.58 487.92 617.37 489.65 605.16C489.77 604.31 491.01 605.16 491.92 605.16C492.83 605.16 493.74 605.80 494.20 605.16C495.61 603.19 495.68 598.63 496.60 598.63C497.52 598.63 497.47 603.17 498.80 605.16C499.22 605.78 500.10 605.16 500.97 605.16C501.83 605.16 502.27 605.16 503.13 605.16C504.00 605.16 505.17 604.36 505.30 605.16C506.91 614.81 506.80 634.12 507.50 631.27C508.72 626.29 509.05 588.62 510.10 585.58C510.85 583.40 510.46 605.98 512.00 618.22C512.10 619.04 513.77 618.85 514.20 618.22C515.53 616.24 516.01 614.40 516.40 611.69C517.89 601.35 517.83 587.07 518.90 585.58C519.71 584.46 519.85 597.40 521.10 605.16C521.53 607.85 522.48 612.57 523.10 611.69C524.32 609.96 524.74 598.63 525.70 598.63C526.66 598.63 526.42 607.18 527.90 611.69C528.14 612.40 529.58 612.29 530.00 611.69C531.38 609.68 531.55 605.16 532.40 605.16C533.23 605.16 533.18 609.47 534.20 611.69C534.38 612.08 535.31 612.12 535.40 611.69C536.43 606.90 536.44 597.59 537.00 598.63C537.84 600.20 537.87 616.66 538.90 618.22C539.59 619.27 540.09 610.32 541.30 605.16C541.93 602.48 542.62 601.24 543.50 598.63C544.38 596.02 545.24 590.75 545.70 592.10C547.00 595.97 546.78 610.13 547.90 611.69C548.66 612.74 549.36 599.38 550.40 598.63C551.18 598.07 551.63 604.51 552.45 608.42C553.27 612.34 553.98 620.02 554.50 618.22C555.88 613.49 555.68 598.32 557.20 592.10C557.60 590.48 557.97 596.70 559.30 598.63C559.77 599.31 561.44 597.83 561.70 598.63C563.16 603.05 562.52 609.97 563.60 611.69C564.16 612.58 564.47 607.14 565.80 605.16C566.23 604.53 567.56 604.53 568.00 605.16C569.40 607.14 569.49 611.69 570.40 611.69C571.29 611.69 572.04 607.85 572.50 605.16C573.84 597.41 573.94 585.58 574.90 585.58C575.86 585.58 575.70 598.05 577.30 605.16C577.46 605.88 579.17 605.90 579.30 605.16C580.97 595.46 580.58 582.52 581.80 579.05C582.42 577.30 583.06 586.88 583.90 592.10C584.74 597.33 585.28 606.21 586.00 605.16C587.08 603.60 587.69 583.61 588.40 585.58C589.57 588.83 589.39 612.64 590.70 618.22C591.23 620.47 591.84 610.32 593.00 605.16C593.60 602.49 593.80 600.61 595.10 598.63C595.51 598.00 596.40 598.63 597.27 598.63C598.14 598.63 598.58 598.63 599.45 598.63C600.32 598.63 600.75 598.63 601.62 598.63C602.50 598.63 603.38 599.26 603.80 598.63C605.13 596.65 605.36 591.21 606.00 592.10C607.24 593.82 606.94 600.62 608.50 605.16C608.74 605.84 610.26 605.84 610.50 605.16C612.10 600.62 611.87 593.83 613.10 592.10C613.73 591.22 614.33 596.02 615.15 598.63C615.97 601.24 616.52 606.04 617.20 605.16C618.54 603.43 619.04 592.85 620.20 592.10C621.06 591.55 621.43 597.98 622.25 601.90C623.07 605.81 623.29 610.91 624.30 611.69C624.99 612.22 625.18 607.16 626.50 605.16C626.90 604.55 627.76 605.16 628.60 605.16C629.44 605.16 630.46 604.45 630.70 605.16C632.22 609.67 631.41 613.79 633.00 618.22C633.29 619.02 635.11 619.02 635.40 618.22C637.03 613.79 636.64 610.33 637.80 605.16C638.39 602.50 638.99 601.24 639.77 598.63C640.56 596.02 641.36 590.49 641.75 592.10C643.25 598.32 643.13 614.75 644.50 618.22C645.19 619.97 645.37 609.70 646.90 605.16C647.13 604.48 648.67 605.84 648.90 605.16C650.41 600.62 650.06 593.82 651.25 592.10C651.87 591.21 652.55 596.02 653.42 598.63C654.29 601.24 654.73 605.16 655.60 605.16C656.48 605.16 657.20 597.74 657.80 598.63C658.96 600.35 659.15 611.69 660.00 611.69C660.85 611.69 661.23 603.85 662.05 598.63C662.87 593.41 663.35 584.53 664.10 585.58C665.21 587.14 665.96 607.13 666.70 605.16C667.92 601.90 667.93 573.21 669.00 572.52C669.97 571.90 670.17 590.30 671.80 601.90C672.01 603.36 673.04 605.62 673.60 605.16C674.64 604.31 674.93 598.63 675.80 598.63C676.67 598.63 677.09 602.55 677.95 605.16C678.81 607.77 679.20 611.69 680.10 611.69C681.02 611.69 681.61 605.16 682.50 605.16C683.37 605.16 683.91 612.58 684.50 611.69C685.65 609.96 686.13 597.58 686.85 598.63C687.93 600.19 688.29 619.34 689.00 618.22C689.95 616.73 689.71 602.02 691.00 592.10C691.07 591.57 692.27 591.60 692.40 592.10C693.63 596.83 693.04 600.59 694.40 605.16C694.60 605.82 695.98 605.73 696.30 605.16C697.46 603.12 697.38 601.24 698.10 598.63C698.82 596.02 699.46 590.77 699.90 592.10C701.18 595.99 701.46 611.69 702.40 611.69C703.34 611.69 703.21 595.96 704.60 592.10C705.09 590.74 706.63 600.00 707.10 598.63C708.43 594.78 708.33 577.93 709.10 579.05C710.13 580.54 709.93 595.46 711.60 605.16C711.73 605.90 713.14 605.72 713.60 605.16C715.30 603.11 715.33 600.73 717.00 598.63C717.41 598.12 718.43 598.10 718.80 598.63C720.23 600.71 720.66 606.06 721.50 605.16C723.10 603.45 723.75 592.10 724.90 592.10C726.03 592.10 725.73 603.48 727.20 605.16C728.01 606.09 728.96 600.78 730.60 598.63C730.96 598.17 732.01 598.09 732.20 598.63C733.41 602.01 733.34 604.51 734.10 608.42C734.86 612.34 735.24 614.30 736.00 618.22" fill="none" stroke="#ff6b6b" stroke-width="2" stroke-linejoin="round" stroke-linecap="butt"/></g>
<g><line x1="827.50" y1="637.50" x2="1236.00" y2="637.50" stroke="rgba(0,0,0,0.05)" stroke-width="1"/>
<text x="824.50" y="640.00" text-anchor="end" class="tk">0</text>
<line x1="827.50" y1="621.50" x2="1236.00" y2="621.50" stroke="rgba(0,0,0,0.05)" stroke-width="1"/>
<text x="824.50" y="624.00" text-anchor="end" class="tk">1</text>
<line x1="827.50" y1="605.50" x2="1236.00" y2="605.50" stroke="rgba(0,0,0,0.05)" stroke-width="1"/>
<text x="824.50" y="608.00" text-anchor="end" class="tk">2</text>
<line x1="827.50" y1="588.50" x2="1236.00" y2="588.50" stroke="rgba(0,0,0,0.05)" stroke-width="1"/>
<text x="824.50" y="591.00" text-anchor="end" class="tk">3</text>
<line x1="827.50" y1="572.50" x2="1236.00" y2="572.50" stroke="rgba(0,0,0,0.05)" stroke-width="1"/>
<text x="824.50" y="575.00" text-anchor="end" class="tk">4</text>
<line x1="827.50" y1="556.50" x2="1236.00" y2="556.50" stroke="rgba(0,0,0,0.05)" stroke-width="1"/>
<text x="824.50" y="559.00" text-anchor="end" class="tk">5</text>
<line x1="827.50" y1="539.50" x2="1236.00" y2="539.50" stroke="rgba(0,0,0,0.05)" stroke-width="1"/>
<text x="824.50" y="542.00" text-anchor="end" class="tk">6</text>
<line x1="827.50" y1="523.50" x2="1236.00" y2="523.50" stroke="rgba(0,0,0,0.05)" stroke-width="1"/>
<text x="824.50" y="526.00" text-anchor="end" class="tk">7</text>
<line x1="827.50" y1="507.50" x2="1236.00" y2="507.50" stroke="rgba(0,0,0,0.05)" stroke-width="1"/>
<text x="824.50" y="510.00" text-anchor="end" class="tk">8</text>
<line x1="827.50" y1="490.50" x2="1236.00" y2="490.50" stroke="rgba(0,0,0,0.05)" stroke-width="1"/>
<text x="824.50" y="493.00" text-anchor="end" class="tk">9</text>
<line x1="827.50" y1="474.50" x2="1236.00" y2="474.50" stroke="rgba(0,0,0,0.05)" stroke-width="1"/>
<text x="824.50" y="477.00" text-anchor="end" class="tk">10</text>
<line x1="835.50" y1="474.60" x2="835.50" y2="637.80" stroke="rgba(0,0,0,0.1)" stroke-width="1"/>
<line x1="835.50" y1="637.80" x2="1236.00" y2="637.80" stroke="rgba(0,0,0,0.1)" stroke-width="1"/>
<text x="835.50" y="658.00" text-anchor="middle" class="tk">02:55 PM</text>
<text x="902.60" y="658.00" text-anchor="middle" class="tk">02:55 PM</text>
<text x="969.70" y="658.00" text-anchor="middle" class="tk">02:56 PM</text>
<text x="1036.80" y="658.00" text-anchor="middle" class="tk">02:56 PM</text>
<text x="1103.90" y="658.00" text-anchor="middle" class="tk">02:57 PM</text>
<text x="1171.00" y="658.00" text-anchor="middle" class="tk">02:57 PM</text>
<path d="M835.50 621.48L1236.00 621.48L1236.00 637.80 L835.50 637.80 Z" fill="rgba(211,47,47,0.125)" stroke="none"/>
<path d="M835.50 621.48L1236.00 621.48" fill="none" stroke="#d32f2f" stroke-width="2" stroke-linejoin="round" stroke-linecap="butt"/></g>
<g><line x1="348.50" y1="945.50" x2="736.00" y2="945.50" stroke="rgba(0,0,0,0.05)" stroke-width="1"/>
<text x="345.50" y="948.00" text-anchor="end" class="tk">0</text>
<line x1="348.50" y1="918.50" x2="736.00" y2="918.50" stroke="rgba(0,0,0,0.05)" stroke-width="1"/>
<text x="345.50" y="921.00" text-anchor="end" class="tk">5,000</text>
<line x1="348.50" y1="891.50" x2="736.00" y2="891.50" stroke="rgba(0,0,0,0.05)" stroke-width="1"/>
<text x="345.50" y="894.00" text-anchor="end" class="tk">10,000</text>
<line x1="348.50" y1="864.50" x2="736.00" y2="864.50" stroke="rgba(0,0,0,0.05)" stroke-width="1"/>
<text x="345.50" y="867.00" text-anchor="end" class="tk">15,000</text>
<line x1="348.50" y1="837.50" x2="736.00" y2="837.50" stroke="rgba(0,0,0,0.05)" stroke-width="1"/>
<text x="345.50" y="840.00" text-anchor="end" class="tk">20,000</text>
<line x1="348.50" y1="809.50" x2="736.00" y2="809.50" stroke="rgba(0,0,0,0.05)" stroke-width="1"/>
<text x="345.50" y="812.00" text-anchor="end" class="tk">25,000</text>
<line x1="348.50" y1="782.50" x2="736.00" y2="782.50" stroke="rgba(0,0,0,0.05)" stroke-width="1"/>
<text x="345.50" y="785.00" text-anchor="end" class="tk">30,000</text>
<line x1="356.50" y1="782.60" x2="356.50" y2="945.80" stroke="rgba(0,0,0,0.1)" stroke-width="1"/>
<line x1="356.50" y1="945.80" x2="736.00" y2="945.80" stroke="rgba(0,0,0,0.1)" stroke-width="1"/>
<text x="356.50" y="966.00" text-anchor="middle" class="tk">02:55 PM</text>
<text x="420.10" y="966.00" text-anchor="middle" class="tk">02:55 PM</text>
<text x="483.70" y="966.00" text-anchor="middle" class="tk">02:56 PM</text>
<text x="547.30" y="966.00" text-anchor="middle" class="tk">02:56 PM</text>
<text x="610.90" y="966.00" text-anchor="middle" class="tk">02:57 PM</text>
<text x="674.50" y="966.00" text-anchor="middle" class="tk">02:57 PM</text>
<path d="M356.50 945.80L513.60 945.80L515.80 921.10L545.10 921.30L547.50 891.70L576.00 891.90L579.80 891.40L607.85 891.40L611.40 890.90L640.10 890.90L642.90 891.40L672.30 891.40L675.10 892.40L736.00 892.40L736.00 945.80 L356.50 945.80 Z" fill="rgba(240,98,146,0.125)" stroke="none"/>
<path d="M356.50 945.80L513.60 945.80L515.80 921.10L545.10 921.30L547.50 891.70L576.00 891.90L579.80 891.40L607.85 891.40L611.40 890.90L640.10 890.90L642.90 891.40L672.30 891.40L675.10 892.40L736.00 892.40" fill="none" stroke="#f06292" stroke-width="2" stroke-linejoin="round" stroke-linecap="butt"/></g>
<g><line x1="848.50" y1="945.50" x2="1236.00" y2="945.50" stroke="rgba(0,0,0,0.05)" stroke-width="1"/>
<text x="845.50" y="948.00" text-anchor="end" class="tk">0</text>
<line x1="848.50" y1="918.50" x2="1236.00" y2="918.50" stroke="rgba(0,0,0,0.05)" stroke-width="1"/>
<text x="845.50" y="921.00" text-anchor="end" class="tk">5,000</text>
<line x1="848.50" y1="891.50" x2="1236.00" y2="891.50" stroke="rgba(0,0,0,0.05)" stroke-width="1"/>
<text x="845.50" y="894.00" text-anchor="end" class="tk">10,000</text>
<line x1="848.50" y1="864.50" x2="1236.00" y2="864.50" stroke="rgba(0,0,0,0.05)" stroke-width="1"/>
<text x="845.50" y="867.00" text-anchor="end" class="tk">15,000</text>
<line x1="848.50" y1="837.50" x2="1236.00" y2="837.50" stroke="rgba(0,0,0,0.05)" stroke-width="1"/>
<text x="845.50" y="840.00" text-anchor="end" class="tk">20,000</text>
<line x1="848.50" y1="809.50" x2="1236.00" y2="809.50" stroke="rgba(0,0,0,0.05)" stroke-width="1"/>
<text x="845.50" y="812.00" text-anchor="end" class="tk">25,000</text>
<line x1="848.50" y1="782.50" x2="1236.00" y2="782.50" stroke="rgba(0,0,0,0.05)" stroke-width="1"/>
<text x="845.50" y="785.00" text-anchor="end" class="tk">30,000</text>
<line x1="856.50" y1="782.60" x2="856.50" y2="945.80" stroke="rgba(0,0,0,0.1)" stroke-width="1"/>
<line x1="856.50" y1="945.80" x2="1236.00" y2="945.80" stroke="rgba(0,0,0,0.1)" stroke-width="1"/>
<text x="856.50" y="966.00" text-anchor="middle" class="tk">02:55 PM</text>
<text x="920.10" y="966.00" text-anchor="middle" class="tk">02:55 PM</text>
<text x="983.70" y="966.00" text-anchor="middle" class="tk">02:56 PM</text>
<text x="1047.30" y="966.00" text-anchor="middle" class="tk">02:56 PM</text>
<text x="1110.90" y="966.00" text-anchor="middle" class="tk">02:57 PM</text>
<text x="1174.50" y="966.00" text-anchor="middle" class="tk">02:57 PM</text>
<path d="M856.50 945.80L1013.60 945.80L1015.80 921.10L1045.10 921.30L1047.50 891.70L1076.00 891.90L1079.80 891.40L1107.85 891.40L1111.40 890.90L1140.10 890.90L1142.90 891.40L1172.30 891.40L1175.10 892.40L1236.00 892.40L1236.00 945.80 L856.50 945.80 Z" fill="rgba(186,104,200,0.125)" stroke="none"/>
<path d="M856.50 945.80L1013.60 945.80L1015.80 921.10L1045.10 921.30L1047.50 891.70L1076.00 891.90L1079.80 891.40L1107.85 891.40L1111.40 890.90L1140.10 890.90L1142.90 891.40L1172.30 891.40L1175.10 892.40L1236.00 892.40" fill="none" stroke="#ba68c8" stroke-width="2" stroke-linejoin="round" stroke-linecap="butt"/></g>
</svg>
<div class="side">
<svg class="logo" width="60" height="70" viewBox="0 0 60 70"><g fill="#375cad" stroke="#375cad" stroke-width="3.6" stroke-linejoin="round"><polygon points="26.44,21.72 29.91,23.72 29.08,27.63 25.10,28.04 23.47,24.39"/><polygon points="39.41,23.27 42.08,26.24 40.08,29.71 36.17,28.88 35.76,24.90"/><polygon points="47.69,31.95 50.47,34.83 48.59,38.36 44.65,37.66 44.10,33.70"/><polygon points="49.94,43.53 52.40,46.68 50.16,49.99 46.32,48.89 46.18,44.90"/><polygon stroke-width="4.6" points="24.88,34.47 36.53,35.39 39.43,46.04 28.80,53.71 19.18,44.01"/></g></svg>
<div class="brand" style="margin-left:-0.13px;letter-spacing:0.323px">PgDog</div>
<div class="nav on" style="top:88px"><svg viewBox="0 0 24 24" width="20" height="20" fill="none" stroke="#667eea" stroke-width="2" stroke-linecap="round" stroke-linejoin="round"><rect x="3" y="3" width="7" height="7"/><rect x="14" y="3" width="7" height="7"/><rect x="14" y="14" width="7" height="7"/><rect x="3" y="14" width="7" height="7"/></svg><span style="margin-left:-0.21px;letter-spacing:0.290px">Dashboard</span></div>
<div class="nav" style="top:140px"><svg viewBox="0 0 24 24" width="20" height="20" fill="none" stroke="#666" stroke-width="2" stroke-linecap="round" stroke-linejoin="round"><polyline points="22 12 18 12 15 21 9 3 6 12 2 12"/></svg><span style="margin-left:0.32px;letter-spacing:0.516px">Activity</span></div>
<div class="nav" style="top:192px"><svg viewBox="0 0 24 24" width="20" height="20" fill="none" stroke="#666" stroke-width="2" stroke-linecap="round" stroke-linejoin="round"><circle cx="12" cy="11.9" r="2.7" stroke-width="1.9" fill="#666" fill-opacity="0.7"/><line x1="12" y1="1.2" x2="12" y2="7.1"/><line x1="12" y1="15.8" x2="12" y2="18.9"/><line x1="1.2" y1="11.9" x2="8.4" y2="11.9"/><line x1="17.1" y1="11.9" x2="22.8" y2="11.9"/><line x1="16.6" y1="7.0" x2="20.5" y2="3.4"/><line x1="17.6" y1="16.4" x2="21.6" y2="20.2"/><line x1="7.3" y1="16.3" x2="9.2" y2="14.8"/><line x1="8.0" y1="7.3" x2="9.2" y2="8.2"/></svg><span style="margin-left:0.10px;letter-spacing:0.366px">Configuration</span></div>
<div class="nav" style="top:244px"><svg viewBox="0 0 24 24" width="20" height="20" fill="none" stroke="#666" stroke-width="2" stroke-linecap="round" stroke-linejoin="round"><path d="M20 21v-2a4 4 0 0 0-4-4H8a4 4 0 0 0-4 4v2"/><circle cx="12" cy="7" r="4"/></svg><span style="margin-left:-0.32px;letter-spacing:0.304px">Profile</span></div>
</div>
</div>
</body></html>
